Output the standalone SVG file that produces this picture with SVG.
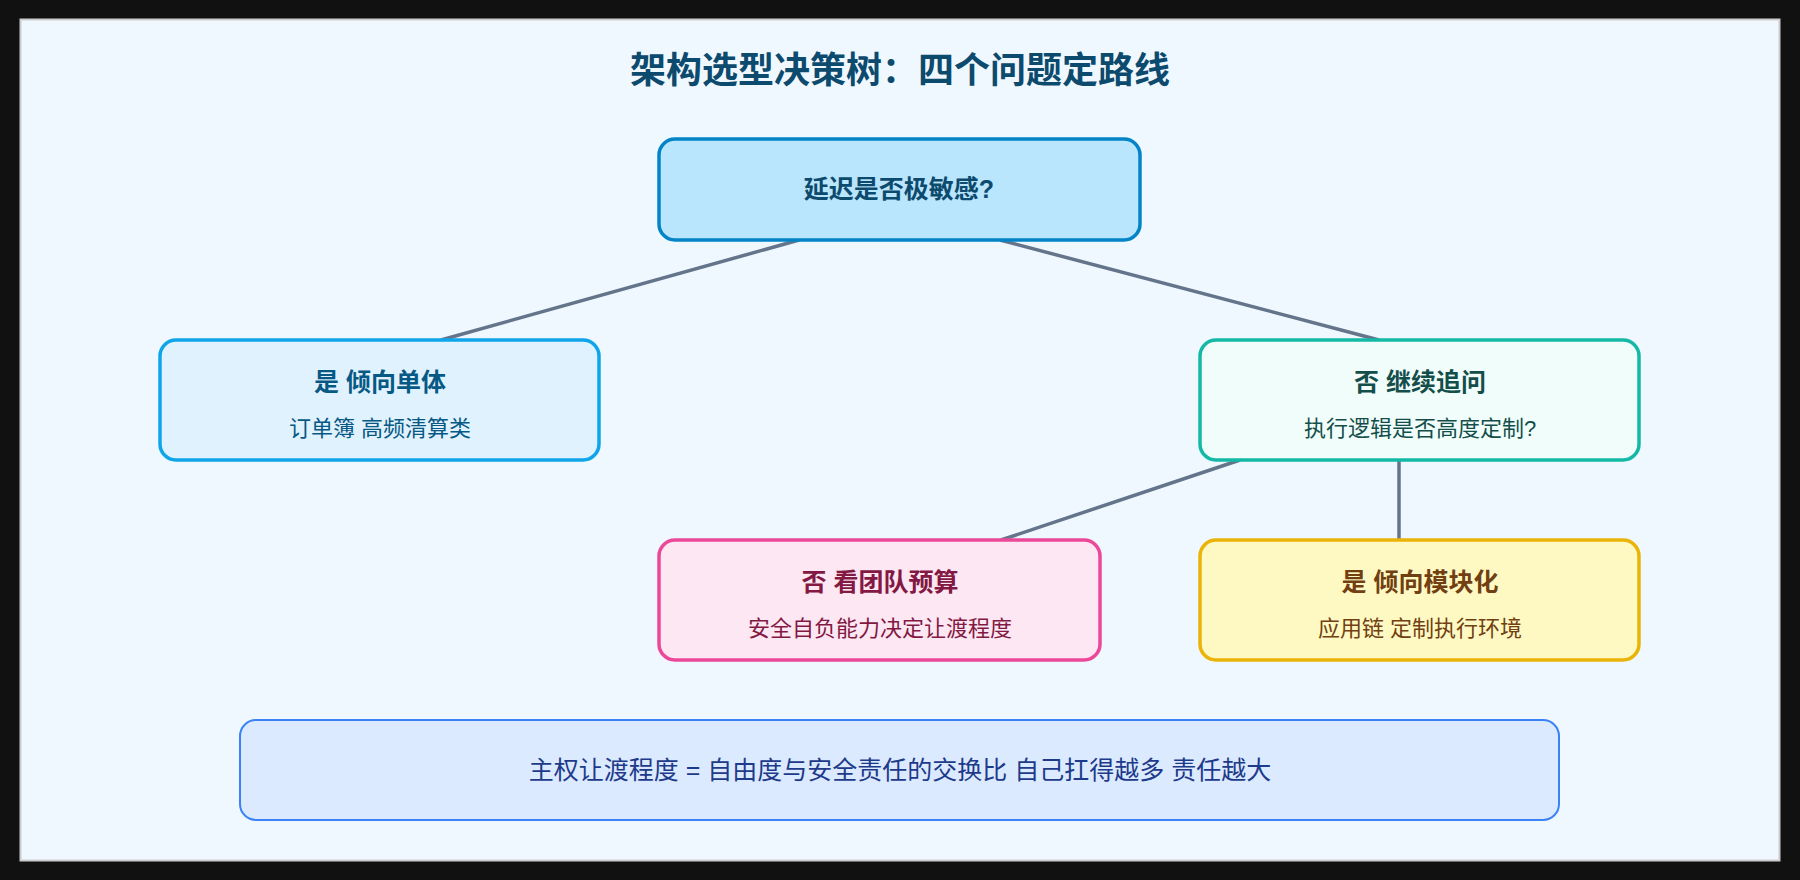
<svg xmlns="http://www.w3.org/2000/svg" width="1800" height="880" viewBox="0 0 1800 880">
<style>
text{font-family:"Liberation Sans","Noto Sans CJK SC",sans-serif;text-anchor:middle}
.t{font-weight:bold;font-size:25px}
.s{font-size:22px}
.n{stroke-width:3.5}
.e{stroke:#64748b;stroke-width:3.5;fill:none}
</style>
<rect width="1800" height="880" fill="#111"/>
<rect x="20.5" y="19.5" width="1759" height="841" fill="#f0f8ff" stroke="#ccc" stroke-width="2"/>
<text x="900" y="83" font-size="36" font-weight="bold" fill="#0c4a6e">架构选型决策树：四个问题定路线</text>
<g id="connectors">
<line class="e" x1="799" y1="240" x2="441" y2="340"/>
<line class="e" x1="1000" y1="240" x2="1379" y2="340"/>
<line class="e" x1="1240" y1="460" x2="1001" y2="540"/>
<line class="e" x1="1399" y1="460" x2="1399" y2="540"/>
</g>
<g id="root"><rect class="n" x="659" y="139" width="481" height="101" rx="16" fill="#bae6fd" stroke="#0284c7"/>
<text class="t" x="899" y="198" fill="#0c4a6e">延迟是否极敏感?</text></g>
<g id="left"><rect class="n" x="160" y="340" width="439" height="120" rx="16" fill="#e0f2fe" stroke="#0ea5e9"/>
<text class="t" x="380" y="391" fill="#075985">是 倾向单体</text>
<text class="s" x="380" y="436" fill="#075985">订单簿 高频清算类</text></g>
<g id="right"><rect class="n" x="1200" y="340" width="439" height="120" rx="16" fill="#f0fdfa" stroke="#14b8a6"/>
<text class="t" x="1420" y="391" fill="#134e4a">否 继续追问</text>
<text class="s" x="1420" y="436" fill="#134e4a">执行逻辑是否高度定制?</text></g>
<g id="budget"><rect class="n" x="659" y="540" width="441" height="120" rx="16" fill="#fce7f3" stroke="#ec4899"/>
<text class="t" x="880" y="591" fill="#831843">否 看团队预算</text>
<text class="s" x="880" y="636" fill="#831843">安全自负能力决定让渡程度</text></g>
<g id="modular"><rect class="n" x="1200" y="540" width="439" height="120" rx="16" fill="#fef9c3" stroke="#eab308"/>
<text class="t" x="1420" y="591" fill="#713f12">是 倾向模块化</text>
<text class="s" x="1420" y="636" fill="#713f12">应用链 定制执行环境</text></g>
<g id="footer"><rect x="240" y="720" width="1319" height="100" rx="16" fill="#dbeafe" stroke="#3b82f6" stroke-width="2"/>
<text x="900" y="779" font-size="25" fill="#1e3a8a">主权让渡程度 = 自由度与安全责任的交换比 自己扛得越多 责任越大</text></g>
</svg>
